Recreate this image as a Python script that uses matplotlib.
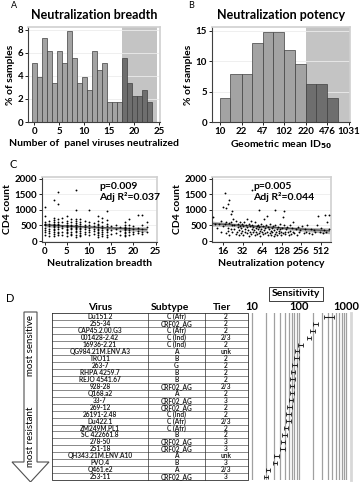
import numpy as np
import matplotlib
matplotlib.use("Agg")
import matplotlib.pyplot as plt
from matplotlib.ticker import FixedLocator, NullLocator, FixedFormatter

plt.rcParams['font.family'] = ['Lato', 'DejaVu Sans']
plt.rcParams['font.weight'] = 'bold'
plt.rcParams['axes.labelweight'] = 'bold'

# panel A: histogram of breadth
breadth_bins = list(range(24))
pct_breadth = [5.1, 3.9, 7.3, 6.2, 3.4, 6.2, 5.1, 7.9, 5.6, 3.4, 3.9, 2.8,
               6.2, 4.5, 5.1, 1.7, 1.7, 1.7, 5.6, 3.4, 2.3, 2.3, 2.8, 1.7]

# panel B: histogram of potency (geometric mean ID50)
potency_edges = [10, 14.7, 22, 32, 47, 69, 102, 150, 220, 324, 476, 700]
pct_potency = [4.0, 7.9, 7.9, 13.0, 14.7, 14.7, 11.9, 9.6, 6.2, 6.2, 4.0]
potency_ticks = [10, 22, 47, 102, 220, 476, 1031]

# panel C left: CD4 vs breadth
breadth = [0]*9 + [1]*7 + [2]*13 + [3]*11 + [4]*6 + [5]*11 + [6]*9 + [7]*14 + \
          [8]*10 + [9]*6 + [10]*7 + [11]*5 + [12]*11 + [13]*8 + [14]*9 + \
          [15]*3 + [16]*3 + [17]*3 + [18]*10 + [19]*6 + [20]*4 + [21]*4 + [22]*5 + [23]*3
cd4_breadth = [1100, 800, 600, 550, 500, 420, 350, 300, 200,
               650, 550, 480, 400, 330, 250, 150,
               1300, 750, 680, 600, 550, 520, 480, 450, 400, 350, 300, 220, 150,
               1580, 1200, 700, 620, 560, 500, 450, 380, 300, 250, 180,
               750, 600, 480, 420, 300, 200,
               800, 650, 580, 520, 480, 450, 400, 350, 300, 250, 150,
               700, 600, 520, 480, 420, 380, 300, 230, 180,
               1630, 980, 720, 650, 580, 530, 500, 460, 420, 380, 330, 280, 200, 120,
               700, 600, 540, 480, 430, 380, 330, 260, 200, 150,
               650, 520, 450, 380, 300, 220,
               980, 620, 500, 430, 350, 280, 180,
               580, 480, 400, 320, 230,
               800, 650, 560, 500, 450, 400, 360, 300, 250, 200, 120,
               750, 600, 480, 420, 350, 280, 220, 150,
               950, 680, 550, 480, 400, 350, 280, 200, 120,
               480, 350, 220,
               520, 380, 250,
               450, 320, 200,
               600, 520, 460, 420, 380, 340, 300, 260, 200, 150,
               720, 500, 420, 350, 280, 200,
               480, 380, 300, 220,
               850, 420, 330, 250,
               820, 500, 400, 300, 230,
               600, 450, 300]

# panel C right: CD4 vs potency
potency = [11, 12, 13, 14, 15, 15, 16, 16,
           17, 17, 18, 18, 18, 19, 19, 19, 20, 20, 20, 21, 21, 21, 22, 22, 22, 23,
           24, 24, 25, 25, 26, 27, 27, 28, 28, 29, 29, 30, 30, 31, 31,
           33, 33, 34, 35, 35, 36, 37, 38, 38, 39, 40, 40, 41, 42, 43, 43, 44, 45,
           45, 46, 47, 48, 49, 50, 51, 52, 53, 54, 55, 56, 57, 58, 58, 59, 60, 61, 62, 63,
           65, 66, 68, 69, 70, 72, 73, 75, 76, 78, 80, 82, 84, 85, 87, 88, 90, 92, 94,
           96, 98, 100, 100, 103, 105, 108, 110, 112, 115, 118, 120, 122, 125, 127,
           130, 133, 135, 138, 140, 142, 145, 150, 155, 160, 165, 170, 175, 180, 185,
           190, 195, 200, 210, 220, 230, 240, 250,
           265, 280, 290, 300, 320, 340, 360, 380, 400, 420, 450, 470, 500, 520, 550,
           580, 600, 620, 650, 680, 700]
cd4_potency = [760, 540, 420, 560, 300, 650, 480, 1100,
               1550, 540, 1050, 250, 620, 1200, 430, 320, 1300, 180, 580, 880, 600, 400, 500, 280, 950, 700,
               380, 520, 240, 640, 300, 450, 560, 200, 350, 480, 620, 260, 410, 540, 330,
               470, 180, 600, 280, 390, 520, 250, 700, 440, 350, 160, 560, 480, 300, 650, 220, 400, 1620,
               530, 280, 460, 350, 180, 600, 420, 300, 480, 230, 520, 380, 260, 980, 440, 320, 150, 560, 400, 280,
               480, 220, 700, 350, 420, 260, 500, 800, 300, 180, 450, 380, 250, 560, 330, 200, 420, 280, 480,
               150, 350, 980, 240, 520, 300, 400, 200, 450, 320, 260, 560, 380, 180, 300,
               420, 780, 260, 500, 950, 300, 220, 380, 450, 280, 200, 520, 330, 240, 430,
               300, 620, 260, 380, 200, 450, 300, 350,
               480, 250, 380, 300, 520, 260, 400, 230, 340, 280, 500, 800, 300, 420, 250,
               350, 850, 300, 600, 820, 400]

# panel D: virus table
viruses = ["Du151.2", "255-34", "CAP45.2.00.G3", "001428-2.42", "16936-2.21",
           "QG984.21M.ENV.A3", "TRO11", "263-7", "RHPA 4259.7", "REJO 4541.67",
           "928-28", "Q168.a2", "33-7", "269-12", "26191-2.48", "Du422.1",
           "ZM249M.PL1", "SC 422661.8", "278-50", "251-18", "QH343.21M.ENV.A10",
           "PVO.4", "Q461.e2", "253-11"]
subtypes = ["C (Afr)", "CRF02_AG", "C (Afr)", "C (Ind)", "C (Ind)", "A", "B", "G",
            "B", "B", "CRF02_AG", "A", "CRF02_AG", "CRF02_AG", "C (Ind)", "C (Afr)",
            "C (Afr)", "B", "CRF02_AG", "CRF02_AG", "A", "B", "A", "CRF02_AG"]
tiers = ["2", "2", "2", "2/3", "2", "unk", "2", "2", "2", "2", "2/3", "2", "3",
         "2", "2", "2/3", "2", "2", "3", "3", "unk", "3", "2/3", "3"]
sensitivity = [431, 226, 192, 163, 108, 91, 87, 81, 75, 72, 71, 71,
               68, 63, 60, 60, 53, 50, 46, 44, 33, 31, 22, 20]

W, H = 361, 482
fig = plt.figure(figsize=(W / 100, H / 100), dpi=100)


def px_axes(l, t, r, b):
    return fig.add_axes([l / W, 1 - b / H, (r - l) / W, (b - t) / H])


def frame(ax):
    for s in ['top', 'right']:
        ax.spines[s].set_color('#d0d0d0')
        ax.spines[s].set_linewidth(1.2)
    for s in ['left', 'bottom']:
        ax.spines[s].set_color('#404040')
        ax.spines[s].set_linewidth(0.8)
    ax.tick_params(labelsize=7, length=2, width=0.6, pad=1.5)
    for lab in ax.get_xticklabels() + ax.get_yticklabels():
        lab.set_fontweight('bold')


light = '#a3a3a3'
dark = '#6e6e6e'
shade = '#c4c4c4'

# A
axA = px_axes(28, 27, 160, 122)
colsA = [dark if b >= 18 else light for b in breadth_bins]
axA.axvspan(17.6, 24.6, color=shade, lw=0, zorder=0)
axA.bar(breadth_bins, pct_breadth, width=1.0, color=colsA, edgecolor='#404040', lw=0.5, zorder=2)
axA.set_xlim(-1.3, 25.2)
axA.set_ylim(0, 8.25)
axA.set_xticks([0, 5, 10, 15, 20, 25])
axA.set_yticks([0, 2, 4, 6, 8])
axA.yaxis.grid(True, color='#ececec', lw=0.6)
axA.set_axisbelow(True)
axA.set_ylabel('% of samples', fontsize=7.5, labelpad=2)
axA.set_xlabel('Number of  panel viruses neutralized', fontsize=7.5, labelpad=2)
axA.set_title('Neutralization breadth', fontsize=9, fontweight='bold', pad=6)
frame(axA)

# B
axB = px_axes(212, 27, 350, 122)
axB.set_xscale('log')
widths = [potency_edges[i + 1] - potency_edges[i] for i in range(len(pct_potency))]
colsB = [dark if e >= 220 else light for e in potency_edges[:-1]]
axB.axvspan(220, 1080, color=shade, lw=0, zorder=0)
axB.bar(potency_edges[:-1], pct_potency, width=widths, align='edge', color=colsB,
        edgecolor='#404040', lw=0.5, zorder=2)
axB.set_xlim(7.6, 1080)
axB.set_ylim(0, 15.6)
axB.xaxis.set_major_locator(FixedLocator(potency_ticks))
axB.xaxis.set_major_formatter(FixedFormatter([str(t) for t in potency_ticks]))
axB.xaxis.set_minor_locator(NullLocator())
axB.set_yticks([0, 5, 10, 15])
axB.yaxis.grid(True, color='#ececec', lw=0.6)
axB.set_axisbelow(True)
axB.set_ylabel('% of samples', fontsize=7.5, labelpad=2)
axB.set_xlabel('Geometric mean ID$_{\\mathbf{50}}$', fontsize=7.5, labelpad=2)
axB.set_title('Neutralization potency', fontsize=9, fontweight='bold', pad=6)
frame(axB)


def scatter_fit(x, y, xt):
    x = np.asarray(x, float)
    y = np.asarray(y, float)
    b1, b0 = np.polyfit(xt(x), y, 1)
    xs = np.linspace(xt(x).min(), xt(x).max(), 100)
    n = len(x)
    resid = y - (b0 + b1 * xt(x))
    s = np.sqrt(np.sum(resid ** 2) / (n - 2))
    sxx = np.sum((xt(x) - xt(x).mean()) ** 2)
    se = s * np.sqrt(1 / n + (xs - xt(x).mean()) ** 2 / sxx)
    return xs, b0 + b1 * xs, se


# C left
axC1 = px_axes(42, 177, 157, 242)
xs, ys, se = scatter_fit(breadth, cd4_breadth, lambda v: v)
axC1.fill_between(xs, ys - 1.97 * se, ys + 1.97 * se, color='#b5b5b5', lw=0, zorder=1)
axC1.plot(xs, ys, color='#555555', lw=1.0, zorder=2)
axC1.scatter(breadth, cd4_breadth, s=1.8, color='black', lw=0, zorder=3)
axC1.set_xlim(-0.6, 25.3)
axC1.set_ylim(-30, 2050)
axC1.set_xticks([0, 5, 10, 15, 20, 25])
axC1.set_yticks([0, 500, 1000, 1500, 2000])
axC1.yaxis.grid(True, color='#ececec', lw=0.6)
axC1.set_axisbelow(True)
axC1.set_ylabel('CD4 count', fontsize=7.5, labelpad=2)
axC1.set_xlabel('Neutralization breadth', fontsize=7.5, labelpad=2)
axC1.text(12.3, 1750, 'p=0.009', fontsize=7.5, fontweight='bold', va='center')
axC1.text(12.3, 1420, 'Adj R²=0.037', fontsize=7.5, fontweight='bold', va='center')
frame(axC1)

# C right
axC2 = px_axes(212, 177, 331, 242)
axC2.set_xscale('log', base=2)
xs, ys, se = scatter_fit(potency, cd4_potency, np.log2)
axC2.fill_between(2 ** xs, ys - 1.97 * se, ys + 1.97 * se, color='#b5b5b5', lw=0, zorder=1)
axC2.plot(2 ** xs, ys, color='#555555', lw=1.0, zorder=2)
axC2.scatter(potency, cd4_potency, s=1.8, color='black', lw=0, zorder=3)
axC2.set_xlim(10.8, 740)
axC2.set_ylim(-30, 2050)
pot_ticks = [16, 32, 64, 128, 256, 512]
axC2.xaxis.set_major_locator(FixedLocator(pot_ticks))
axC2.xaxis.set_major_formatter(FixedFormatter([str(t) for t in pot_ticks]))
axC2.xaxis.set_minor_locator(NullLocator())
axC2.set_yticks([0, 500, 1000, 1500, 2000])
axC2.yaxis.grid(True, color='#ececec', lw=0.6)
axC2.set_axisbelow(True)
axC2.set_ylabel('CD4 count', fontsize=7.5, labelpad=2)
axC2.set_xlabel('Neutralization potency', fontsize=7.5, labelpad=2)
axC2.text(47, 1750, 'p=0.005', fontsize=7.5, fontweight='bold', va='center')
axC2.text(47, 1420, 'Adj R²=0.044', fontsize=7.5, fontweight='bold', va='center')
frame(axC2)

# D sensitivity plot
top, bot = 313.2, 480.2
axD = px_axes(250, top, 351, bot)
axD.set_xscale('log')
axD.set_xlim(9.2, 1250)
axD.set_ylim(len(viruses) - 0.5, -0.5)
grid_vals = [10, 20, 30, 40, 50, 60, 70, 80, 90, 100, 200, 300, 400, 500,
             600, 700, 800, 900, 1000]
for g in grid_vals:
    axD.axvline(g, color='#a0a0a0', lw=0.9, zorder=0)
rows = list(range(len(viruses)))
sens = np.array(sensitivity, float)
spread = np.where(np.arange(len(sens)) == 0, 1.3, 1.12)
axD.errorbar(sens, rows, xerr=[sens - sens / spread, sens * spread - sens], fmt='none',
             ecolor='#202020', elinewidth=0.8, capsize=1.3, capthick=0.6, zorder=3)
axD.xaxis.tick_top()
axD.xaxis.set_major_locator(FixedLocator([10, 100, 1000]))
axD.xaxis.set_major_formatter(FixedFormatter(['10', '100', '1000']))
axD.xaxis.set_minor_locator(NullLocator())
axD.tick_params(axis='x', length=0, pad=1, labelsize=8)
for lab in axD.get_xticklabels():
    lab.set_fontweight('bold')
axD.set_yticks([])
for s in ['top', 'left', 'bottom']:
    axD.spines[s].set_visible(False)
axD.spines['right'].set_color('#d8d8d8')
axD.spines['right'].set_linewidth(2)

# overlay for table, arrow and labels
ov = fig.add_axes([0, 0, 1, 1], zorder=-1)
ov.set_xlim(0, W)
ov.set_ylim(H, 0)
ov.axis('off')

ov.text(14, 5, 'A', fontsize=6.5, va='center', ha='center', fontweight='normal')
ov.text(191, 5, 'B', fontsize=6.5, va='center', ha='center', fontweight='normal')
ov.text(13, 164, 'C', fontsize=8, va='center', ha='center', fontweight='normal')
ov.text(10, 298, 'D', fontsize=8, va='center', ha='center', fontweight='normal')

cols_x = [52, 148, 205, 248]
row_h = (bot - top) / len(viruses)
ov.plot([cols_x[0], cols_x[-1], cols_x[-1], cols_x[0], cols_x[0]], [top, top, bot, bot, top],
        color='#303030', lw=0.6)
for cx in cols_x[1:-1]:
    ov.plot([cx, cx], [top, bot], color='#303030', lw=0.5)
for i in range(1, len(viruses)):
    yy = top + i * row_h
    ov.plot([cols_x[0], cols_x[-1]], [yy, yy], color='#303030', lw=0.4)
centers = [100, 176.5, 226]
for c, h in zip([100, 170, 222], ['Virus', 'Subtype', 'Tier']):
    ov.text(c, 307, h, fontsize=7.5, fontweight='bold', ha='center', va='center')
for i, (v, s, t) in enumerate(zip(viruses, subtypes, tiers)):
    yy = top + (i + 0.5) * row_h
    for c, txt in zip(centers, [v, s, t]):
        ov.text(c, yy, txt, fontsize=4.7, fontweight='bold', ha='center', va='center',
                color='#202020')

ov.text(296, 294, 'Sensitivity', fontsize=7.5, fontweight='bold', ha='center', va='center',
        bbox=dict(boxstyle='square,pad=0.25', fc='white', ec='#202020', lw=0.6))

arrow_x = [24, 37, 37, 49, 30.5, 12, 24, 24]
arrow_y = [312, 312, 462, 462, 482, 462, 462, 312]
ov.fill(arrow_x, arrow_y, facecolor='white', edgecolor='#505050', lw=0.8)
ov.text(30.5, 345, 'most sensitive', rotation=90, fontsize=7, ha='center', va='center',
        fontweight='normal')
ov.text(30.5, 437, 'most resistant', rotation=90, fontsize=7, ha='center', va='center',
        fontweight='normal')

fig.savefig('out.png', dpi=100)
